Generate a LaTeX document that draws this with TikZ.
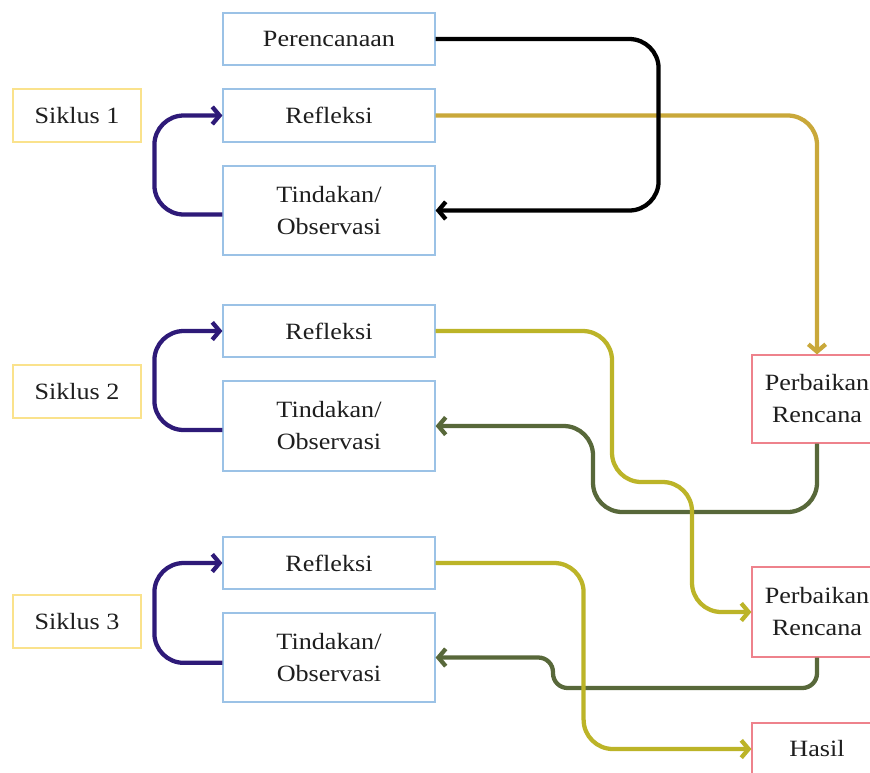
\documentclass[tikz,border=0pt]{standalone}
\usepackage{fontspec}
\setmainfont[FakeStretch=1.12]{Liberation Serif}
\usetikzlibrary{arrows.meta}
\definecolor{boxblue}{RGB}{155,194,230}
\definecolor{boxyellow}{RGB}{250,226,140}
\definecolor{boxred}{RGB}{238,130,140}
\definecolor{textgray}{RGB}{30,30,30}
\definecolor{purp}{RGB}{46,26,120}
\definecolor{gold}{RGB}{201,168,58}
\definecolor{yelolive}{RGB}{188,180,40}
\definecolor{olive}{RGB}{88,104,58}
\begin{document}
\begin{tikzpicture}[x=0.75pt,y=-0.75pt,
  box/.style={draw, line width=0.9pt, fill=white, inner sep=0pt, align=center,
    font=\fontsize{17.5}{24}\selectfont, text=textgray},
  bluebox/.style={box, draw=boxblue, minimum width=159pt},
  yellowbox/.style={box, draw=boxyellow, minimum width=96pt, minimum height=39.75pt},
  redbox/.style={box, draw=boxred, minimum width=97.5pt},
  conn/.style={line width=3.2pt, rounded corners=22pt, -{Straight Barb[length=5.5pt,width=13pt]}}
]
\clip (0,0) rectangle (870,772);
\fill[white] (0,0) rectangle (870,772);

% left column boxes
\node[bluebox, minimum height=39pt] (per) at (329,39) {Perencanaan};
\node[yellowbox] (s1) at (77,115.5) {Siklus 1};
\node[bluebox, minimum height=39.75pt] (r1) at (329,115.5) {Refleksi};
\node[bluebox, minimum height=66.75pt] (t1) at (329,210.5) {Tindakan/\\Observasi};

\node[yellowbox] (s2) at (77,391.5) {Siklus 2};
\node[bluebox, minimum height=39pt] (r2) at (329,331) {Refleksi};
\node[bluebox, minimum height=67.5pt] (t2) at (329,426) {Tindakan/\\Observasi};

\node[yellowbox] (s3) at (77,621.5) {Siklus 3};
\node[bluebox, minimum height=39pt] (r3) at (329,563) {Refleksi};
\node[bluebox, minimum height=66.75pt] (t3) at (329,657.5) {Tindakan/\\Observasi};

% right boxes
\node[redbox, minimum height=66pt] (pr1) at (817,399) {Perbaikan\\Rencana};
\node[redbox, minimum height=67.5pt] (pr2) at (817,612) {Perbaikan\\Rencana};
\node[redbox, minimum height=39pt] (hasil) at (817,749) {Hasil};

% purple loops
\draw[conn, purp] ([yshift=-3pt]t1.west) -- ++(-68,0) |- (r1.west);
\draw[conn, purp] ([yshift=-3pt]t2.west) -- ++(-68,0) |- (r2.west);
\draw[conn, purp] ([yshift=-4pt]t3.west) -- ++(-68,0) |- (r3.west);

% cycle 1
\draw[conn, gold] (r1.east) -| (pr1.north);
\draw[conn, black] (per.east) -- ++(223,0) |- (t1.east);

% cycle 2
\draw[conn, olive] (pr1.south) |- (593,512) |- (t2.east);
\draw[conn, yelolive] (r2.east) -- (612,331) -- (612,482) -- (692,482) |- (pr2.west);

% cycle 3
\draw[conn, olive, rounded corners=11pt] (pr2.south) |- (553,688) |- (t3.east);
\draw[conn, yelolive] (r3.east) -- ++(148,0) |- (hasil.west);
\end{tikzpicture}
\end{document}
